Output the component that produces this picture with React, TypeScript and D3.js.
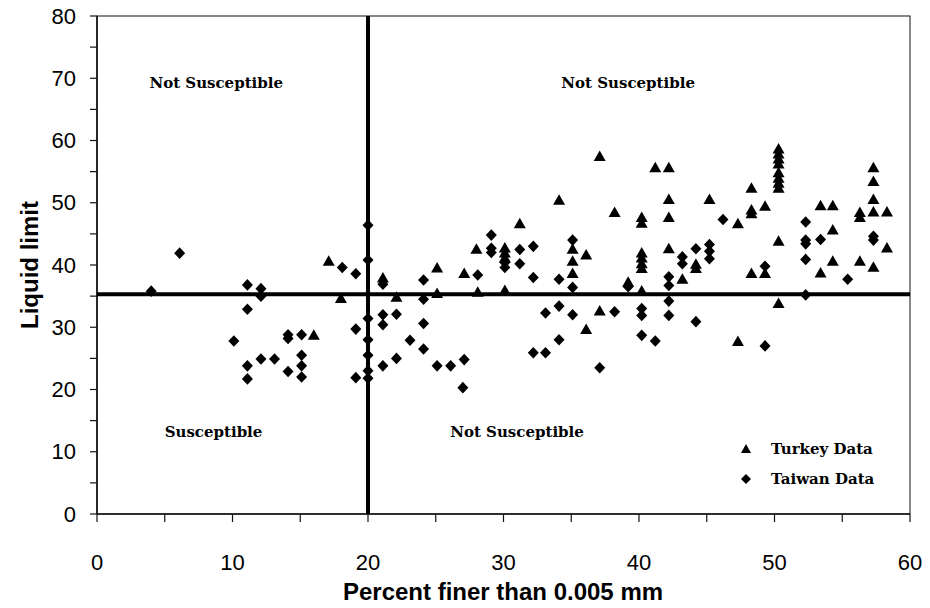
import React from 'react';
import * as d3 from 'd3';

const turkeyData: [number, number][] = [
  [16.0, 28.8], [17.1, 40.7], [18.0, 34.7], [21.1, 38.0], [22.1, 34.9],
  [25.1, 39.6], [25.1, 35.5], [27.1, 38.7], [28.0, 42.6], [28.1, 35.7],
  [30.1, 42.8], [30.1, 42.0], [30.1, 41.2], [30.1, 36.0], [31.2, 46.7],
  [34.1, 50.5], [35.1, 42.6], [35.1, 40.7], [35.1, 38.7], [36.1, 41.7],
  [36.1, 29.7], [37.1, 57.5], [37.1, 32.7], [38.2, 48.5], [39.2, 37.3],
  [40.2, 47.7], [40.2, 46.8], [40.2, 42.0], [40.2, 41.2], [40.2, 40.3],
  [40.2, 39.5], [40.2, 35.9], [41.2, 55.7], [42.2, 55.7], [42.2, 50.6],
  [42.2, 47.7], [42.2, 42.7], [43.2, 37.8], [44.2, 40.2], [44.2, 39.5],
  [45.2, 50.6], [47.3, 46.7], [47.3, 27.8], [48.3, 52.4], [48.3, 48.9],
  [48.3, 48.3], [48.3, 38.7], [49.3, 49.5], [49.3, 38.7],
  [50.3, 58.7], [50.3, 57.9], [50.3, 57.1], [50.3, 56.3], [50.3, 54.9],
  [50.3, 54.0], [50.3, 53.2], [50.3, 52.4], [50.3, 43.9], [50.3, 33.9],
  [53.4, 49.6], [53.4, 38.8], [54.3, 49.6], [54.3, 45.7], [54.3, 40.7],
  [56.3, 48.5], [56.3, 47.7], [56.3, 40.7], [57.3, 55.7], [57.3, 53.5],
  [57.3, 50.6], [57.3, 48.6], [57.3, 39.7], [58.3, 48.6], [58.3, 42.8],
];

const taiwanData: [number, number][] = [
  [4.0, 35.8], [6.1, 41.9], [10.1, 27.8], [11.1, 36.8], [11.1, 32.9],
  [11.1, 23.8], [11.1, 21.7], [12.1, 36.2], [12.1, 35.0], [12.1, 24.9],
  [13.1, 24.9], [14.1, 28.8], [14.1, 28.2], [14.1, 22.9], [15.1, 28.8],
  [15.1, 25.5], [15.1, 23.8], [15.1, 22.0], [18.1, 39.6], [19.1, 38.6],
  [19.1, 29.7], [19.1, 21.9], [20.0, 46.4], [20.0, 40.8], [20.0, 31.4],
  [20.0, 28.0], [20.0, 25.5], [20.0, 23.0], [20.0, 21.8], [21.1, 36.9],
  [21.1, 32.0], [21.1, 30.4], [21.1, 23.8], [22.1, 32.1], [22.1, 25.0],
  [23.1, 27.9], [24.1, 37.6], [24.1, 34.5], [24.1, 30.6], [24.1, 26.5],
  [25.1, 23.8], [26.1, 23.8], [27.1, 24.8], [27.0, 20.3], [28.1, 38.4],
  [29.1, 44.8], [29.1, 42.7], [29.1, 42.0], [30.1, 40.4], [30.1, 39.6],
  [31.2, 42.5], [31.2, 40.2], [32.2, 43.0], [32.2, 38.0], [32.2, 25.9],
  [33.1, 32.3], [33.1, 25.9], [34.1, 37.7], [34.1, 33.4], [34.1, 28.0],
  [35.1, 44.0], [35.1, 36.4], [35.1, 32.0], [37.1, 23.5], [38.2, 32.5],
  [39.2, 36.5], [40.2, 33.0], [40.2, 31.9], [40.2, 28.7], [41.2, 27.8],
  [42.2, 38.1], [42.2, 36.7], [42.2, 34.2], [42.2, 31.9], [43.2, 41.3],
  [43.2, 40.2], [44.2, 42.6], [44.2, 30.9], [45.2, 43.3], [45.2, 42.2],
  [45.2, 41.0], [46.2, 47.3], [49.3, 39.8], [49.3, 27.0], [52.3, 46.9],
  [52.3, 44.0], [52.3, 43.4], [52.3, 40.9], [52.3, 35.2], [53.4, 44.1],
  [55.4, 37.7], [57.3, 44.6], [57.3, 44.0],
];

const xTicks = [0, 10, 20, 30, 40, 50, 60];
const yTicks = [0, 10, 20, 30, 40, 50, 60, 70, 80];
const xMinor = d3.range(0, 61, 5);
const yMinor = d3.range(0, 81, 5);

const boundaryX = 20;
const boundaryY = 35.3;

const regionLabels = [
  { text: 'Not Susceptible', x: 8.8, y: 69.2 },
  { text: 'Not Susceptible', x: 39.2, y: 69.2 },
  { text: 'Susceptible', x: 8.6, y: 13.2 },
  { text: 'Not Susceptible', x: 31.0, y: 13.2 },
];

const legendItems = [
  { label: 'Turkey Data', shape: 'triangle' },
  { label: 'Taiwan Data', shape: 'diamond' },
];

const W = 930;
const H = 608;
const M = { left: 97, right: 20, top: 16, bottom: 94 };

const triPath = 'M0,-5.5L6,5L-6,5Z';
const diaPath = 'M0,-5.8L5.5,0L0,5.8L-5.5,0Z';

export default function App() {
  const x = d3.scaleLinear().domain([0, 60]).range([M.left, W - M.right]);
  const y = d3.scaleLinear().domain([0, 80]).range([H - M.bottom, M.top]);
  const sans = '"Liberation Sans", Arial, sans-serif';
  const serif = '"DejaVu Serif", serif';

  return (
    <svg width={W} height={H} style={{ position: 'absolute', left: 0, top: 0, background: '#fff' }}>
      <rect x={x(0)} y={y(80)} width={x(60) - x(0)} height={y(0) - y(80)} fill="none" stroke="#111" strokeWidth={1} />
      {yMinor.map((v) => (
        <line key={'yt' + v} x1={x(0) - 7} x2={x(0)} y1={y(v)} y2={y(v)} stroke="#111" strokeWidth={1.2} />
      ))}
      {xMinor.map((v) => (
        <line key={'xt' + v} x1={x(v)} x2={x(v)} y1={y(0)} y2={y(0) + 8} stroke="#111" strokeWidth={1.2} />
      ))}
      <line x1={x(0)} x2={x(0)} y1={y(0)} y2={y(80)} stroke="#111" strokeWidth={1.6} />
      <line x1={x(0)} x2={x(60)} y1={y(0)} y2={y(0)} stroke="#111" strokeWidth={1.6} />
      {yTicks.map((v) => (
        <text key={'yl' + v} x={x(0) - 21} y={y(v)} textAnchor="end" dominantBaseline="central" fontFamily={sans} fontSize={22} fill="#000">
          {v}
        </text>
      ))}
      {xTicks.map((v) => (
        <text key={'xl' + v} x={x(v)} y={y(0) + 56} textAnchor="middle" fontFamily={sans} fontSize={22} fill="#000">
          {v}
        </text>
      ))}
      <text x={503} y={600} textAnchor="middle" fontFamily={sans} fontWeight="bold" fontSize={24} fill="#000">
        Percent finer than 0.005 mm
      </text>
      <text transform={`translate(38,${(y(0) + y(80)) / 2}) rotate(-90)`} textAnchor="middle" fontFamily={sans} fontWeight="bold" fontSize={24} fill="#000">
        Liquid limit
      </text>
      <line x1={x(boundaryX)} x2={x(boundaryX)} y1={y(80)} y2={y(0)} stroke="#000" strokeWidth={4} />
      <line x1={x(0)} x2={x(60)} y1={y(boundaryY)} y2={y(boundaryY)} stroke="#000" strokeWidth={4} />
      {taiwanData.map((d, i) => (
        <path key={'tw' + i} d={diaPath} transform={`translate(${x(d[0])},${y(d[1])})`} fill="#000" />
      ))}
      {turkeyData.map((d, i) => (
        <path key={'tk' + i} d={triPath} transform={`translate(${x(d[0])},${y(d[1])})`} fill="#000" />
      ))}
      {regionLabels.map((r, i) => (
        <text key={'rl' + i} x={x(r.x)} y={y(r.y)} textAnchor="middle" dominantBaseline="central" fontFamily={serif} fontWeight="bold" fontSize={15} fill="#000">
          {r.text}
        </text>
      ))}
      {legendItems.map((l, i) => (
        <g key={'lg' + i} transform={`translate(746,${449 + i * 30})`}>
          <path d={l.shape === 'triangle' ? 'M0,-5L5,4L-5,4Z' : 'M0,-5L5,0L0,5L-5,0Z'} fill="#000" />
          <text x={25} y={0} dominantBaseline="central" fontFamily={serif} fontWeight="bold" fontSize={15} fill="#000">
            {l.label}
          </text>
        </g>
      ))}
    </svg>
  );
}
